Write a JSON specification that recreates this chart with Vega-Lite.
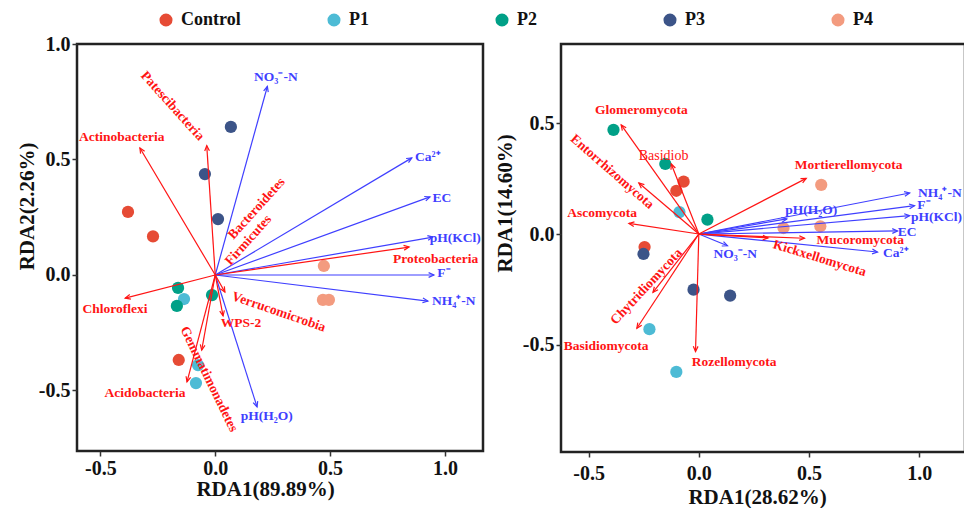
{
  "$schema": "https://vega.github.io/schema/vega-lite/v6.json",
  "autosize": {"type": "none"},
  "padding": {"left": 77, "top": 44, "right": 887, "bottom": 464},
  "background": "white",
  "bounds": "flush",
  "spacing": 78,
  "resolve": {"scale": {"x": "independent", "y": "independent"}},
  "datasets": {
    "sitesA": [
      {"group": "Control", "x": -0.380, "y": 0.273},
      {"group": "Control", "x": -0.271, "y": 0.167},
      {"group": "Control", "x": -0.159, "y": -0.368},
      {"group": "P1", "x": -0.136, "y": -0.104},
      {"group": "P1", "x": -0.075, "y": -0.390},
      {"group": "P1", "x": -0.084, "y": -0.468},
      {"group": "P2", "x": -0.162, "y": -0.056},
      {"group": "P2", "x": -0.167, "y": -0.134},
      {"group": "P2", "x": -0.014, "y": -0.087},
      {"group": "P3", "x": 0.068, "y": 0.641},
      {"group": "P3", "x": -0.045, "y": 0.437},
      {"group": "P3", "x": 0.012, "y": 0.242},
      {"group": "P4", "x": 0.473, "y": 0.039},
      {"group": "P4", "x": 0.469, "y": -0.108},
      {"group": "P4", "x": 0.495, "y": -0.108}
    ],
    "sitesB": [
      {"group": "Control", "x": -0.069, "y": 0.236},
      {"group": "Control", "x": -0.102, "y": 0.195},
      {"group": "Control", "x": -0.246, "y": -0.059},
      {"group": "P1", "x": -0.088, "y": 0.099},
      {"group": "P1", "x": -0.224, "y": -0.429},
      {"group": "P1", "x": -0.102, "y": -0.622},
      {"group": "P2", "x": -0.387, "y": 0.470},
      {"group": "P2", "x": -0.152, "y": 0.316},
      {"group": "P2", "x": 0.039, "y": 0.065},
      {"group": "P3", "x": -0.251, "y": -0.090},
      {"group": "P3", "x": -0.024, "y": -0.251},
      {"group": "P3", "x": 0.142, "y": -0.278},
      {"group": "P4", "x": 0.555, "y": 0.222},
      {"group": "P4", "x": 0.551, "y": 0.035},
      {"group": "P4", "x": 0.384, "y": 0.027}
    ],
    "arrowsA": [
      {"name": "NO3-N", "kind": "env", "x": 0.227, "y": 0.816},
      {"name": "Ca2+", "kind": "env", "x": 0.856, "y": 0.507},
      {"name": "EC", "kind": "env", "x": 0.935, "y": 0.338},
      {"name": "pH(KCl)", "kind": "env", "x": 0.948, "y": 0.164},
      {"name": "F-", "kind": "env", "x": 0.952, "y": 0.0},
      {"name": "NH4+-N", "kind": "env", "x": 0.926, "y": -0.113},
      {"name": "pH(H2O)", "kind": "env", "x": 0.182, "y": -0.571},
      {"name": "Actinobacteria", "kind": "taxa", "x": -0.328, "y": 0.550},
      {"name": "Patescibacteria", "kind": "taxa", "x": -0.037, "y": 0.560},
      {"name": "Proteobacteria", "kind": "taxa", "x": 0.844, "y": 0.121},
      {"name": "Chloroflexi", "kind": "taxa", "x": -0.392, "y": -0.100},
      {"name": "Verrucomicrobia", "kind": "taxa", "x": 0.042, "y": -0.074},
      {"name": "WPS-2", "kind": "taxa", "x": 0.034, "y": -0.177},
      {"name": "Gemmatimonadetes", "kind": "taxa", "x": -0.059, "y": -0.325},
      {"name": "Acidobacteria", "kind": "taxa", "x": -0.123, "y": -0.463}
    ],
    "arrowsB": [
      {"name": "NH4+-N", "kind": "env", "x": 0.956, "y": 0.185},
      {"name": "F-", "kind": "env", "x": 0.978, "y": 0.128},
      {"name": "pH(KCl)", "kind": "env", "x": 0.956, "y": 0.083},
      {"name": "EC", "kind": "env", "x": 0.901, "y": 0.014},
      {"name": "Ca2+", "kind": "env", "x": 0.810, "y": -0.081},
      {"name": "pH(H2O)", "kind": "env", "x": 0.399, "y": 0.068},
      {"name": "NO3-N", "kind": "env", "x": 0.130, "y": -0.053},
      {"name": "Glomeromycota", "kind": "taxa", "x": -0.352, "y": 0.492},
      {"name": "Basidiobolomycota", "kind": "taxa", "x": -0.125, "y": 0.316},
      {"name": "Entorrhizomycota", "kind": "taxa", "x": -0.272, "y": 0.230},
      {"name": "Ascomycota", "kind": "taxa", "x": -0.317, "y": 0.048},
      {"name": "Mortierellomycota", "kind": "taxa", "x": 0.487, "y": 0.251},
      {"name": "Mucoromycota", "kind": "taxa", "x": 0.479, "y": -0.019},
      {"name": "Kickxellomycota", "kind": "taxa", "x": 0.314, "y": -0.017},
      {"name": "Chytridiomycota", "kind": "taxa", "x": -0.208, "y": -0.263},
      {"name": "Basidiomycota", "kind": "taxa", "x": -0.281, "y": -0.425},
      {"name": "Rozellomycota", "kind": "taxa", "x": -0.015, "y": -0.530}
    ],
    "labelsA": [
      {"label": "NO₃⁻-N", "kind": "env", "lx": 0.264, "ly": 0.855},
      {"label": "Ca²⁺", "kind": "env", "lx": 0.926, "ly": 0.509},
      {"label": "EC", "kind": "env", "lx": 0.987, "ly": 0.335},
      {"label": "pH(KCl)", "kind": "env", "lx": 1.045, "ly": 0.161},
      {"label": "F⁻", "kind": "env", "lx": 0.996, "ly": 0.009},
      {"label": "NH₄⁺-N", "kind": "env", "lx": 1.039, "ly": -0.113},
      {"label": "pH(H₂O)", "kind": "env", "lx": 0.224, "ly": -0.610},
      {"label": "Actinobacteria", "kind": "taxa", "lx": -0.407, "ly": 0.596},
      {"label": "Patescibacteria", "kind": "taxa", "lx": -0.186, "ly": 0.732},
      {"label": "Bacteroidetes", "kind": "taxa", "lx": 0.180, "ly": 0.288},
      {"label": "Firmicutes", "kind": "taxa", "lx": 0.144, "ly": 0.151},
      {"label": "Proteobacteria", "kind": "taxa", "lx": 0.960, "ly": 0.068},
      {"label": "Chloroflexi", "kind": "taxa", "lx": -0.437, "ly": -0.148},
      {"label": "Verrucomicrobia", "kind": "taxa", "lx": 0.277, "ly": -0.160},
      {"label": "WPS-2", "kind": "taxa", "lx": 0.112, "ly": -0.209},
      {"label": "Gemmatimonadetes", "kind": "taxa", "lx": -0.027, "ly": -0.451},
      {"label": "Acidobacteria", "kind": "taxa", "lx": -0.306, "ly": -0.510}
    ],
    "labelsB": [
      {"label": "NH₄⁺-N", "kind": "env", "lx": 1.093, "ly": 0.187},
      {"label": "F⁻", "kind": "env", "lx": 1.021, "ly": 0.132},
      {"label": "pH(KCl)", "kind": "env", "lx": 1.078, "ly": 0.078},
      {"label": "EC", "kind": "env", "lx": 0.945, "ly": 0.010},
      {"label": "Ca²⁺", "kind": "env", "lx": 0.893, "ly": -0.086},
      {"label": "pH(H₂O)", "kind": "env", "lx": 0.510, "ly": 0.110},
      {"label": "NO₃⁻-N", "kind": "env", "lx": 0.165, "ly": -0.090},
      {"label": "Glomeromycota", "kind": "taxa", "lx": -0.261, "ly": 0.559},
      {"label": "Basidiob", "kind": "taxa", "lx": -0.160, "ly": 0.353},
      {"label": "Entorrhizomycota", "kind": "taxa", "lx": -0.393, "ly": 0.281},
      {"label": "Ascomycota", "kind": "taxa", "lx": -0.439, "ly": 0.095},
      {"label": "Mortierellomycota", "kind": "taxa", "lx": 0.679, "ly": 0.313},
      {"label": "Mucoromycota", "kind": "taxa", "lx": 0.732, "ly": -0.026},
      {"label": "Kickxellomycota", "kind": "taxa", "lx": 0.548, "ly": -0.109},
      {"label": "Chytridiomycota", "kind": "taxa", "lx": -0.238, "ly": -0.237},
      {"label": "Basidiomycota", "kind": "taxa", "lx": -0.420, "ly": -0.504},
      {"label": "Rozellomycota", "kind": "taxa", "lx": 0.160, "ly": -0.579}
    ]
  },
  "hconcat": [
    {
      "width": 406,
      "height": 407,
      "layer": [
        {"mark": {"type": "rule", "color": "#333333", "strokeWidth": 1.2, "strokeDash": [5, 4]}, "encoding": {"x": {"datum": 0, "type": "quantitative"}}},
        {"mark": {"type": "rule", "color": "#333333", "strokeWidth": 1.2, "strokeDash": [5, 4]}, "encoding": {"y": {"datum": 0, "type": "quantitative"}}},
        {
          "data": {"name": "sitesA"},
          "mark": {"type": "circle", "size": 150, "opacity": 1},
          "encoding": {
            "x": {"field": "x", "type": "quantitative", "scale": {"domain": [-0.602, 1.166], "nice": false, "zero": false},
              "axis": {"values": [-0.5, 0, 0.5, 1], "labelExpr": "datum.value < 0 ? '-' + format(-datum.value, '.1f') : format(datum.value, '.1f')", "title": "RDA1(89.89%)", "titleX": 188, "titleY": 38, "titleBaseline": "middle", "titleAlign": "center", "labelFlush": false}},
            "y": {"field": "y", "type": "quantitative", "scale": {"domain": [-0.762, 1.0], "nice": false, "zero": false},
              "axis": {"values": [-0.5, 0, 0.5, 1], "labelExpr": "datum.value < 0 ? '-' + format(-datum.value, '.1f') : format(datum.value, '.1f')", "title": "RDA2(2.26%)", "titleX": -50, "titleY": 162, "titleAngle": -90, "titleAlign": "center", "titleBaseline": "middle", "labelFlush": false}},
            "color": {"field": "group", "type": "nominal",
              "scale": {"domain": ["Control", "P1", "P2", "P3", "P4"], "range": ["#E64B35", "#4DBBD5", "#00A087", "#3C5488", "#F39B7F"]},
              "legend": {"orient": "none", "legendX": 80, "legendY": -33, "direction": "horizontal", "columns": 5, "gridAlign": "all", "columnPadding": 84, "title": null, "symbolType": "circle", "symbolSize": 170, "symbolOpacity": 1, "labelFont": "Liberation Serif", "labelFontWeight": "bold", "labelFontSize": 18, "labelColor": "#111111", "labelOffset": 6}}
          }
        },
        {
          "data": {"name": "arrowsA"},
          "mark": {"type": "rule", "strokeWidth": 1.2},
          "encoding": {
            "x": {"field": "x", "type": "quantitative"},
            "y": {"field": "y", "type": "quantitative"},
            "x2": {"datum": 0},
            "y2": {"datum": 0},
            "stroke": {"field": "kind", "type": "nominal", "scale": {"domain": ["env", "taxa"], "range": ["#3f3fff", "#ff1414"]}, "legend": null}
          }
        },
        {
          "data": {"name": "arrowsA"},
          "transform": [{"calculate": "atan2(datum.x, datum.y) * 180 / PI", "as": "ang"}],
          "mark": {"type": "point", "shape": "M-0.45,1L0,0L0.45,1", "filled": false, "size": 110, "strokeWidth": 1.2, "opacity": 1},
          "encoding": {
            "x": {"field": "x", "type": "quantitative"},
            "y": {"field": "y", "type": "quantitative"},
            "angle": {"field": "ang", "type": "quantitative", "scale": null},
            "stroke": {"field": "kind", "type": "nominal", "scale": {"domain": ["env", "taxa"], "range": ["#3f3fff", "#ff1414"]}, "legend": null}
          }
        },
        {
          "data": {"name": "labelsA"},
          "transform": [{"filter": {"not": {"field": "label", "oneOf": ["Patescibacteria", "Bacteroidetes", "Firmicutes", "Verrucomicrobia", "Gemmatimonadetes"]}}}],
          "mark": {"type": "text", "font": "Liberation Serif", "fontWeight": "bold", "fontSize": 13.5, "align": "center", "baseline": "middle"},
          "encoding": {
            "x": {"field": "lx", "type": "quantitative"},
            "y": {"field": "ly", "type": "quantitative"},
            "text": {"field": "label"},
            "fill": {"field": "kind", "type": "nominal", "scale": {"domain": ["env", "taxa"], "range": ["#3f3fff", "#ff1414"]}, "legend": null}
          }
        },
        {
          "data": {"name": "labelsA"},
          "transform": [{"filter": {"field": "label", "equal": "Patescibacteria"}}],
          "mark": {"type": "text", "font": "Liberation Serif", "fontWeight": "bold", "fontSize": 13.5, "align": "center", "baseline": "middle", "angle": 48},
          "encoding": {
            "x": {"field": "lx", "type": "quantitative"},
            "y": {"field": "ly", "type": "quantitative"},
            "text": {"field": "label"},
            "fill": {"field": "kind", "type": "nominal", "scale": {"domain": ["env", "taxa"], "range": ["#3f3fff", "#ff1414"]}, "legend": null}
          }
        },
        {
          "data": {"name": "labelsA"},
          "transform": [{"filter": {"field": "label", "oneOf": ["Bacteroidetes", "Firmicutes"]}}],
          "mark": {"type": "text", "font": "Liberation Serif", "fontWeight": "bold", "fontSize": 13.5, "align": "center", "baseline": "middle", "angle": 312},
          "encoding": {
            "x": {"field": "lx", "type": "quantitative"},
            "y": {"field": "ly", "type": "quantitative"},
            "text": {"field": "label"},
            "fill": {"field": "kind", "type": "nominal", "scale": {"domain": ["env", "taxa"], "range": ["#3f3fff", "#ff1414"]}, "legend": null}
          }
        },
        {
          "data": {"name": "labelsA"},
          "transform": [{"filter": {"field": "label", "equal": "Verrucomicrobia"}}],
          "mark": {"type": "text", "font": "Liberation Serif", "fontWeight": "bold", "fontSize": 13.5, "align": "center", "baseline": "middle", "angle": 19},
          "encoding": {
            "x": {"field": "lx", "type": "quantitative"},
            "y": {"field": "ly", "type": "quantitative"},
            "text": {"field": "label"},
            "fill": {"field": "kind", "type": "nominal", "scale": {"domain": ["env", "taxa"], "range": ["#3f3fff", "#ff1414"]}, "legend": null}
          }
        },
        {
          "data": {"name": "labelsA"},
          "transform": [{"filter": {"field": "label", "equal": "Gemmatimonadetes"}}],
          "mark": {"type": "text", "font": "Liberation Serif", "fontWeight": "bold", "fontSize": 13.5, "align": "center", "baseline": "middle", "angle": 64},
          "encoding": {
            "x": {"field": "lx", "type": "quantitative"},
            "y": {"field": "ly", "type": "quantitative"},
            "text": {"field": "label"},
            "fill": {"field": "kind", "type": "nominal", "scale": {"domain": ["env", "taxa"], "range": ["#3f3fff", "#ff1414"]}, "legend": null}
          }
        },
        {
          "mark": {"type": "text", "font": "Liberation Serif", "fontWeight": "bold", "fontSize": 23, "align": "center", "baseline": "middle", "color": "#111111"},
          "encoding": {"x": {"datum": -0.508, "type": "quantitative"}, "y": {"datum": 0.931, "type": "quantitative"}, "text": {"value": "A"}}
        },
        {
          "mark": {"type": "text", "font": "Liberation Serif", "fontWeight": "bold", "fontSize": 20, "align": "right", "baseline": "middle", "color": "#111111"},
          "encoding": {"x": {"datum": 1.122, "type": "quantitative"}, "y": {"datum": 0.952, "type": "quantitative"}, "text": {"value": "Bacterial community"}}
        }
      ]
    },
    {
      "width": 404,
      "height": 408,
      "layer": [
        {"mark": {"type": "rule", "color": "#333333", "strokeWidth": 1.2, "strokeDash": [5, 4]}, "encoding": {"x": {"datum": 0, "type": "quantitative"}}},
        {"mark": {"type": "rule", "color": "#333333", "strokeWidth": 1.2, "strokeDash": [5, 4]}, "encoding": {"y": {"datum": 0, "type": "quantitative"}}},
        {
          "data": {"name": "sitesB"},
          "mark": {"type": "circle", "size": 150, "opacity": 1},
          "encoding": {
            "x": {"field": "x", "type": "quantitative", "scale": {"domain": [-0.625, 1.207], "nice": false, "zero": false},
              "axis": {"values": [-0.5, 0, 0.5, 1], "labelExpr": "datum.value < 0 ? '-' + format(-datum.value, '.1f') : format(datum.value, '.1f')", "title": "RDA1(28.62%)", "titleX": 196, "titleY": 45, "titleBaseline": "middle", "titleAlign": "center", "labelFlush": false, "labelPadding": 6}},
            "y": {"field": "y", "type": "quantitative", "scale": {"domain": [-0.983, 0.857], "nice": false, "zero": false},
              "axis": {"values": [-0.5, 0, 0.5], "labelExpr": "datum.value < 0 ? '-' + format(-datum.value, '.1f') : format(datum.value, '.1f')", "title": "RDA1(14.60%)", "titleX": -56, "titleY": 159, "titleAngle": -90, "titleAlign": "center", "titleBaseline": "middle", "labelFlush": false}},
            "color": {"field": "group", "type": "nominal",
              "scale": {"domain": ["Control", "P1", "P2", "P3", "P4"], "range": ["#E64B35", "#4DBBD5", "#00A087", "#3C5488", "#F39B7F"]}}
          }
        },
        {
          "data": {"name": "arrowsB"},
          "mark": {"type": "rule", "strokeWidth": 1.2},
          "encoding": {
            "x": {"field": "x", "type": "quantitative"},
            "y": {"field": "y", "type": "quantitative"},
            "x2": {"datum": 0},
            "y2": {"datum": 0},
            "stroke": {"field": "kind", "type": "nominal", "scale": {"domain": ["env", "taxa"], "range": ["#3f3fff", "#ff1414"]}, "legend": null}
          }
        },
        {
          "data": {"name": "arrowsB"},
          "transform": [{"calculate": "atan2(datum.x, datum.y) * 180 / PI", "as": "ang"}],
          "mark": {"type": "point", "shape": "M-0.45,1L0,0L0.45,1", "filled": false, "size": 110, "strokeWidth": 1.2, "opacity": 1},
          "encoding": {
            "x": {"field": "x", "type": "quantitative"},
            "y": {"field": "y", "type": "quantitative"},
            "angle": {"field": "ang", "type": "quantitative", "scale": null},
            "stroke": {"field": "kind", "type": "nominal", "scale": {"domain": ["env", "taxa"], "range": ["#3f3fff", "#ff1414"]}, "legend": null}
          }
        },
        {
          "data": {"name": "labelsB"},
          "transform": [{"filter": {"not": {"field": "label", "oneOf": ["Entorrhizomycota", "Chytridiomycota", "Kickxellomycota", "Basidiob"]}}}],
          "mark": {"type": "text", "font": "Liberation Serif", "fontWeight": "bold", "fontSize": 13.5, "align": "center", "baseline": "middle"},
          "encoding": {
            "x": {"field": "lx", "type": "quantitative"},
            "y": {"field": "ly", "type": "quantitative"},
            "text": {"field": "label"},
            "fill": {"field": "kind", "type": "nominal", "scale": {"domain": ["env", "taxa"], "range": ["#3f3fff", "#ff1414"]}, "legend": null}
          }
        },
        {
          "data": {"name": "labelsB"},
          "transform": [{"filter": {"field": "label", "equal": "Basidiob"}}],
          "mark": {"type": "text", "font": "Liberation Serif", "fontWeight": "normal", "fontSize": 14, "align": "center", "baseline": "middle"},
          "encoding": {
            "x": {"field": "lx", "type": "quantitative"},
            "y": {"field": "ly", "type": "quantitative"},
            "text": {"field": "label"},
            "fill": {"field": "kind", "type": "nominal", "scale": {"domain": ["env", "taxa"], "range": ["#3f3fff", "#ff1414"]}, "legend": null}
          }
        },
        {
          "data": {"name": "labelsB"},
          "transform": [{"filter": {"field": "label", "equal": "Entorrhizomycota"}}],
          "mark": {"type": "text", "font": "Liberation Serif", "fontWeight": "bold", "fontSize": 13.5, "align": "center", "baseline": "middle", "angle": 41},
          "encoding": {
            "x": {"field": "lx", "type": "quantitative"},
            "y": {"field": "ly", "type": "quantitative"},
            "text": {"field": "label"},
            "fill": {"field": "kind", "type": "nominal", "scale": {"domain": ["env", "taxa"], "range": ["#3f3fff", "#ff1414"]}, "legend": null}
          }
        },
        {
          "data": {"name": "labelsB"},
          "transform": [{"filter": {"field": "label", "equal": "Chytridiomycota"}}],
          "mark": {"type": "text", "font": "Liberation Serif", "fontWeight": "bold", "fontSize": 13.5, "align": "center", "baseline": "middle", "angle": 313},
          "encoding": {
            "x": {"field": "lx", "type": "quantitative"},
            "y": {"field": "ly", "type": "quantitative"},
            "text": {"field": "label"},
            "fill": {"field": "kind", "type": "nominal", "scale": {"domain": ["env", "taxa"], "range": ["#3f3fff", "#ff1414"]}, "legend": null}
          }
        },
        {
          "data": {"name": "labelsB"},
          "transform": [{"filter": {"field": "label", "equal": "Kickxellomycota"}}],
          "mark": {"type": "text", "font": "Liberation Serif", "fontWeight": "bold", "fontSize": 13.5, "align": "center", "baseline": "middle", "angle": 17},
          "encoding": {
            "x": {"field": "lx", "type": "quantitative"},
            "y": {"field": "ly", "type": "quantitative"},
            "text": {"field": "label"},
            "fill": {"field": "kind", "type": "nominal", "scale": {"domain": ["env", "taxa"], "range": ["#3f3fff", "#ff1414"]}, "legend": null}
          }
        },
        {
          "mark": {"type": "text", "font": "Liberation Serif", "fontWeight": "bold", "fontSize": 23, "align": "center", "baseline": "middle", "color": "#111111"},
          "encoding": {"x": {"datum": -0.515, "type": "quantitative"}, "y": {"datum": 0.798, "type": "quantitative"}, "text": {"value": "B"}}
        },
        {
          "mark": {"type": "text", "font": "Liberation Serif", "fontWeight": "bold", "fontSize": 20.5, "align": "center", "baseline": "middle", "color": "#111111"},
          "encoding": {"x": {"datum": 0.674, "type": "quantitative"}, "y": {"datum": 0.807, "type": "quantitative"}, "text": {"value": "Fungal community"}}
        }
      ]
    }
  ],
  "config": {
    "font": "Liberation Serif",
    "view": {"stroke": "#222222", "strokeWidth": 2.5},
    "axis": {
      "domain": false,
      "grid": false,
      "ticks": true,
      "tickSize": 5,
      "tickWidth": 1.5,
      "tickColor": "#333333",
      "labelFont": "Liberation Serif",
      "labelFontWeight": "bold",
      "labelFontSize": 20,
      "labelColor": "#111111",
      "labelPadding": 2,
      "titleFont": "Liberation Serif",
      "titleFontWeight": "bold",
      "titleFontSize": 21,
      "titleColor": "#111111"
    }
  }
}
